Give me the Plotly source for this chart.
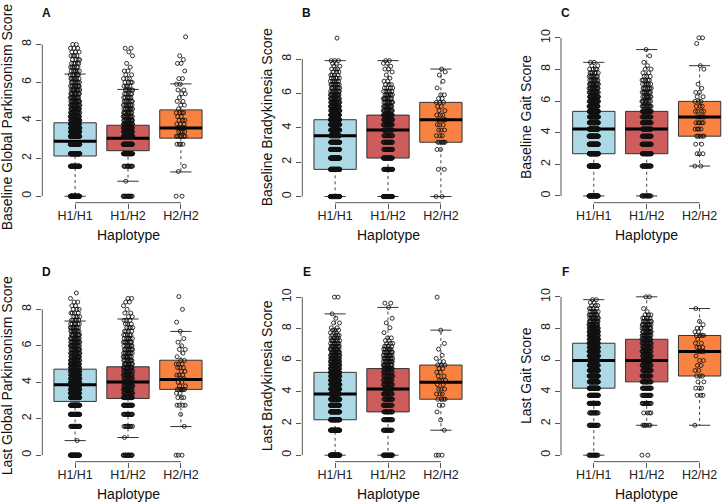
import numpy as np
import plotly.graph_objects as go

# ---------------- data ----------------
categories = ["H1/H1", "H1/H2", "H2/H2"]
box_colors = ["#ADD8E6", "#CD5C5C", "#FA8241"]

# Panel A: Baseline Global Parkinsonism Score
A_H1H1_values = [0, 1.58, 2.24, 2.74, 3.16, 3.4, 3.6, 3.8, 4.0, 4.2, 4.4, 4.6, 4.8, 5.0, 5.2, 5.4, 5.6, 5.8, 6.0, 6.2, 6.4, 6.6, 6.8, 7.0, 7.2, 7.4, 7.6, 7.8, 8.0]
A_H1H1_counts = [55, 45, 75, 80, 70, 40, 35, 30, 28, 25, 20, 18, 16, 14, 12, 11, 10, 9, 8, 7, 6, 6, 6, 5, 4, 4, 3, 3, 2]
A_H1H2_values = [0, 0.79, 1.58, 2.24, 2.74, 3.16, 3.4, 3.6, 3.8, 4.0, 4.2, 4.4, 4.6, 4.8, 5.0, 5.2, 5.4, 5.6, 5.8, 6.0, 6.2, 6.4, 6.6, 6.8, 7.0, 7.4, 7.6, 7.8]
A_H1H2_counts = [15, 1, 12, 35, 40, 45, 25, 22, 20, 15, 12, 10, 9, 8, 7, 6, 5, 5, 4, 4, 3, 2, 2, 1, 1, 1, 1, 2]
A_H2H2_values = [0, 1.3, 1.58, 2.74, 3.16, 3.4, 3.6, 3.8, 4.0, 4.2, 4.4, 4.6, 4.8, 5.0, 5.2, 5.4, 5.6, 5.9, 6.2, 6.6, 7.0, 7.2, 7.4, 8.4]
A_H2H2_counts = [2, 1, 1, 4, 6, 4, 6, 3, 3, 2, 4, 1, 2, 2, 1, 2, 2, 2, 2, 1, 2, 1, 1, 1]
A_q1 = [2.12, 2.40, 3.06]
A_med = [2.90, 3.06, 3.59]
A_q3 = [3.87, 3.74, 4.55]
A_lo = [0.0, 0.79, 1.28]
A_hi = [6.44, 5.63, 5.92]

# Panel B: Baseline Bradykinesia Score
B_H1H1_values = [0, 1.58, 2.24, 2.74, 3.16, 3.54, 3.87, 4.18, 4.47, 4.74, 5.00, 5.24, 5.48, 5.70, 5.92, 6.12, 6.32, 6.52, 6.71, 6.89, 7.07, 7.25, 7.42, 7.58, 7.75, 7.91, 9.22]
B_H1H1_counts = [100, 70, 55, 45, 40, 35, 45, 50, 50, 30, 25, 22, 20, 16, 14, 10, 8, 8, 6, 5, 4, 3, 3, 2, 2, 3, 1]
B_H1H2_values = [0, 1.58, 2.24, 2.74, 3.16, 3.54, 3.87, 4.18, 4.47, 4.74, 5.00, 5.24, 5.48, 5.70, 5.92, 6.12, 6.32, 6.52, 6.71, 6.89, 7.07, 7.25, 7.42, 7.58, 7.75, 7.91]
B_H1H2_counts = [40, 25, 30, 20, 18, 15, 20, 20, 20, 20, 14, 12, 10, 9, 7, 5, 4, 3, 2, 1, 1, 1, 2, 1, 2, 2]
B_H2H2_values = [0, 1.58, 2.74, 3.16, 3.54, 3.87, 4.18, 4.47, 4.74, 5.00, 5.24, 5.48, 5.70, 5.92, 6.32, 6.71, 7.07, 7.25, 7.42]
B_H2H2_counts = [2, 2, 2, 6, 3, 3, 3, 4, 3, 2, 2, 3, 2, 2, 1, 1, 1, 1, 1]
B_q1 = [1.58, 2.24, 3.16]
B_med = [3.54, 3.87, 4.47]
B_q3 = [4.47, 4.74, 5.48]
B_lo = [0.0, 0.0, 0.0]
B_hi = [7.91, 7.91, 7.42]

# Panel C: Baseline Gait Score
C_H1H1_values = [0, 1.89, 2.67, 3.27, 3.78, 4.23, 4.63, 5.00, 5.35, 5.67, 5.98, 6.27, 6.55, 6.81, 7.07, 7.32, 7.56, 7.79, 8.02, 8.24, 8.45]
C_H1H1_counts = [40, 50, 70, 60, 55, 50, 45, 40, 45, 30, 25, 22, 18, 15, 12, 9, 8, 6, 4, 2, 2]
C_H1H2_values = [0, 1.89, 2.67, 3.27, 3.78, 4.23, 4.63, 5.00, 5.35, 5.67, 5.98, 6.27, 6.55, 6.81, 7.07, 7.32, 7.56, 7.79, 8.02, 8.24, 8.45, 8.86, 9.26]
C_H1H2_counts = [15, 25, 35, 30, 25, 22, 20, 18, 22, 12, 10, 9, 8, 7, 6, 5, 3, 2, 2, 1, 1, 1, 1]
C_H2H2_values = [1.89, 2.67, 3.27, 3.78, 4.23, 4.63, 5.00, 5.35, 5.67, 5.98, 6.27, 6.55, 6.81, 7.07, 8.02, 8.24, 9.64, 10.0]
C_H2H2_counts = [2, 3, 2, 5, 4, 5, 5, 4, 3, 3, 2, 2, 1, 1, 1, 1, 1, 2]
C_q1 = [2.67, 2.67, 3.78]
C_med = [4.23, 4.23, 5.00]
C_q3 = [5.35, 5.35, 5.98]
C_lo = [0.0, 0.0, 1.89]
C_hi = [8.45, 9.26, 8.24]

# Panel D: Last Global Parkinsonism Score
D_H1H1_values = [0, 0.8, 1.58, 2.24, 2.74, 3.16, 3.4, 3.6, 3.8, 4.0, 4.2, 4.4, 4.6, 4.8, 5.0, 5.2, 5.4, 5.6, 5.8, 6.0, 6.2, 6.4, 6.6, 6.8, 7.0, 7.2, 7.4, 7.6, 7.8, 8.0, 8.2, 8.4, 8.6, 8.9]
D_H1H1_counts = [40, 1, 25, 45, 50, 55, 35, 35, 35, 32, 30, 28, 26, 24, 22, 20, 18, 16, 15, 14, 13, 12, 10, 9, 8, 6, 5, 4, 4, 3, 2, 2, 1, 1]
D_H1H2_values = [0, 0.97, 1.58, 2.24, 2.74, 3.16, 3.4, 3.6, 3.8, 4.0, 4.2, 4.4, 4.6, 4.8, 5.0, 5.2, 5.4, 5.6, 5.8, 6.0, 6.2, 6.4, 6.6, 6.8, 7.0, 7.2, 7.4, 7.6, 7.8, 8.0, 8.2, 8.4, 8.6]
D_H1H2_counts = [18, 1, 10, 18, 22, 28, 17, 17, 17, 15, 14, 13, 12, 11, 10, 9, 9, 8, 8, 7, 7, 6, 5, 4, 4, 3, 3, 2, 2, 1, 1, 2, 2]
D_H2H2_values = [0, 1.58, 2.24, 2.74, 3.16, 3.4, 3.6, 3.8, 4.0, 4.2, 4.4, 4.6, 4.8, 5.0, 5.2, 5.4, 5.6, 5.8, 6.0, 6.2, 6.4, 6.8, 7.3, 8.0, 8.7]
D_H2H2_counts = [3, 1, 1, 4, 3, 2, 6, 2, 2, 2, 3, 2, 3, 3, 2, 1, 1, 2, 1, 1, 1, 1, 1, 1, 1]
D_q1 = [2.95, 3.11, 3.61]
D_med = [3.86, 4.02, 4.15]
D_q3 = [4.72, 4.85, 5.21]
D_lo = [0.80, 0.97, 1.57]
D_hi = [7.36, 7.47, 6.79]

# Panel E: Last Bradykinesia Score
E_H1H1_values = [0, 1.58, 2.24, 2.74, 3.16, 3.54, 3.87, 4.18, 4.47, 4.74, 5.00, 5.24, 5.48, 5.70, 5.92, 6.12, 6.32, 6.52, 6.71, 6.89, 7.07, 7.25, 7.42, 7.58, 7.75, 7.91, 8.06, 8.37, 8.66, 8.94, 10.0]
E_H1H1_counts = [70, 50, 50, 40, 40, 40, 40, 35, 35, 30, 30, 30, 25, 22, 20, 18, 15, 12, 10, 9, 7, 6, 5, 4, 3, 3, 2, 2, 1, 1, 2]
E_H1H2_values = [0, 1.58, 2.24, 2.74, 3.16, 3.54, 3.87, 4.18, 4.47, 4.74, 5.00, 5.24, 5.48, 5.70, 5.92, 6.12, 6.32, 6.52, 6.71, 6.89, 7.07, 7.25, 7.42, 7.75, 8.06, 8.37, 8.66, 9.35, 9.62]
E_H1H2_counts = [30, 20, 20, 15, 18, 17, 17, 18, 16, 15, 14, 13, 14, 12, 11, 10, 9, 7, 6, 4, 3, 2, 2, 1, 1, 1, 1, 1, 2]
E_H2H2_values = [0, 1.58, 2.24, 2.74, 3.16, 3.54, 3.87, 4.18, 4.47, 4.74, 5.00, 5.24, 5.48, 5.70, 5.92, 6.12, 6.32, 6.71, 7.07, 7.91, 10.0]
E_H2H2_counts = [3, 1, 1, 1, 2, 4, 3, 3, 2, 3, 2, 2, 2, 3, 2, 1, 1, 1, 1, 1, 1]
E_q1 = [2.24, 2.74, 3.54]
E_med = [3.87, 4.18, 4.61]
E_q3 = [5.24, 5.48, 5.70]
E_lo = [0.0, 0.0, 1.58]
E_hi = [8.94, 9.35, 7.91]

# Panel F: Last Gait Score
F_H1H1_values = [0, 1.89, 2.67, 3.27, 3.78, 4.23, 4.63, 5.00, 5.35, 5.67, 5.98, 6.27, 6.55, 6.81, 7.07, 7.32, 7.56, 7.79, 8.02, 8.24, 8.45, 8.66, 8.86, 9.06, 9.26, 9.45, 9.64, 9.82]
F_H1H1_counts = [15, 20, 15, 40, 45, 45, 40, 35, 35, 30, 35, 35, 35, 35, 35, 30, 28, 25, 22, 18, 12, 10, 8, 6, 4, 3, 2, 2]
F_H1H2_values = [0, 1.89, 2.67, 3.27, 3.78, 4.23, 4.63, 5.00, 5.35, 5.67, 5.98, 6.27, 6.55, 6.81, 7.07, 7.32, 7.56, 7.79, 8.02, 8.24, 8.45, 8.66, 8.86, 9.06, 9.26, 10.0]
F_H1H2_counts = [2, 6, 4, 15, 20, 20, 20, 18, 18, 17, 20, 16, 16, 15, 14, 14, 14, 12, 11, 10, 7, 5, 3, 1, 1, 2]
F_H2H2_values = [1.89, 3.78, 4.23, 4.63, 5.00, 5.35, 5.67, 5.98, 6.27, 6.55, 6.81, 7.07, 7.32, 7.56, 7.79, 8.02, 8.24, 8.45, 9.26]
F_H2H2_counts = [1, 3, 3, 2, 3, 2, 2, 2, 1, 4, 3, 2, 1, 4, 2, 2, 1, 1, 1]
F_q1 = [4.23, 4.63, 5.00]
F_med = [5.98, 5.98, 6.55]
F_q3 = [7.07, 7.32, 7.56]
F_lo = [0.0, 1.89, 1.89]
F_hi = [9.82, 10.0, 9.26]

panel_letters = ["A", "B", "C", "D", "E", "F"]
y_titles = ["Baseline Global Parkinsonism Score", "Baseline Bradykinesia Score", "Baseline Gait Score",
            "Last Global Parkinsonism Score", "Last Bradykinesia Score", "Last Gait Score"]
x_title = "Haplotype"
y_ticks_8 = [0, 2, 4, 6, 8]
y_ticks_10 = [0, 2, 4, 6, 8, 10]

panel_points = [
    [(A_H1H1_values, A_H1H1_counts), (A_H1H2_values, A_H1H2_counts), (A_H2H2_values, A_H2H2_counts)],
    [(B_H1H1_values, B_H1H1_counts), (B_H1H2_values, B_H1H2_counts), (B_H2H2_values, B_H2H2_counts)],
    [(C_H1H1_values, C_H1H1_counts), (C_H1H2_values, C_H1H2_counts), (C_H2H2_values, C_H2H2_counts)],
    [(D_H1H1_values, D_H1H1_counts), (D_H1H2_values, D_H1H2_counts), (D_H2H2_values, D_H2H2_counts)],
    [(E_H1H1_values, E_H1H1_counts), (E_H1H2_values, E_H1H2_counts), (E_H2H2_values, E_H2H2_counts)],
    [(F_H1H1_values, F_H1H1_counts), (F_H1H2_values, F_H1H2_counts), (F_H2H2_values, F_H2H2_counts)],
]
panel_stats = [
    (A_q1, A_med, A_q3, A_lo, A_hi),
    (B_q1, B_med, B_q3, B_lo, B_hi),
    (C_q1, C_med, C_q3, C_lo, C_hi),
    (D_q1, D_med, D_q3, D_lo, D_hi),
    (E_q1, E_med, E_q3, E_lo, E_hi),
    (F_q1, F_med, F_q3, F_lo, F_hi),
]
panel_yticks = [y_ticks_8, y_ticks_8, y_ticks_10, y_ticks_8, y_ticks_10, y_ticks_10]

# ---------------- geometry (pixels) ----------------
W, H = 722, 502
geom = [
    dict(left=42.3, y0=195.0, ppu=19.05, bottom=201.5),
    dict(left=302.3, y0=195.3, ppu=17.25, bottom=201.5),
    dict(left=561.0, y0=194.7, ppu=15.87, bottom=201.5),
    dict(left=42.3, y0=455.0, ppu=18.30, bottom=461.5),
    dict(left=302.3, y0=455.0, ppu=15.87, bottom=461.5),
    dict(left=561.0, y0=455.0, ppu=15.90, bottom=461.5),
]
PLOT_H = 172.0
X_PPU = 52.9
X_MIN = 0.38
PLOT_W = 171.4

FONT = "Liberation Sans, Arial, Helvetica, sans-serif"
AXIS_COL = "#555555"


def jitter(n, amount=0.1):
    idx = np.arange(n)
    return (((idx * 0.6180339887498949) % 1.0) - 0.5) * 2 * amount


fig = go.Figure()
layout_axes = {}
shapes = []
annotations = []

for p in range(6):
    g = geom[p]
    sfx = "" if p == 0 else str(p + 1)
    xa, ya = "x" + sfx, "y" + sfx
    left = g["left"]
    right = min(left + PLOT_W, W)
    top = g["bottom"] - PLOT_H
    ymin = -(g["bottom"] - g["y0"]) / g["ppu"]
    ymax = ymin + PLOT_H / g["ppu"]
    xmax = X_MIN + (right - left) / X_PPU

    q1s, meds, q3s, los, his = panel_stats[p]
    for i in range(3):
        xc = i + 1
        fig.add_trace(go.Box(
            x=[xc], q1=[q1s[i]], median=[meds[i]], q3=[q3s[i]],
            width=0.8, fillcolor=box_colors[i], line=dict(color="#333333", width=1),
            whiskerwidth=0, boxpoints=False, showlegend=False, hoverinfo="skip",
            xaxis=xa, yaxis=ya,
        ))
        fig.add_trace(go.Scatter(
            x=[xc, xc, None, xc, xc], y=[q3s[i], his[i], None, q1s[i], los[i]],
            mode="lines", line=dict(color="#444444", width=1, dash="3px,3px"),
            showlegend=False, hoverinfo="skip", xaxis=xa, yaxis=ya,
        ))
        fig.add_trace(go.Scatter(
            x=[xc - 0.2, xc + 0.2, None, xc - 0.2, xc + 0.2], y=[his[i], his[i], None, los[i], los[i]],
            mode="lines", line=dict(color="#333333", width=1),
            showlegend=False, hoverinfo="skip", xaxis=xa, yaxis=ya,
        ))
        fig.add_trace(go.Scatter(
            x=[xc - 0.4, xc + 0.4], y=[meds[i], meds[i]],
            mode="lines", line=dict(color="#000000", width=3),
            showlegend=False, hoverinfo="skip", xaxis=xa, yaxis=ya,
        ))
    for i in range(3):
        vals, cnts = panel_points[p][i]
        yv = np.repeat(np.array(vals, dtype=float), np.array(cnts, dtype=int))
        xv = (i + 1) + jitter(len(yv), 0.09)
        fig.add_trace(go.Scatter(
            x=xv, y=yv, mode="markers",
            marker=dict(symbol="circle-open", size=4.0, color="#111111", line=dict(width=0.85)),
            showlegend=False, hoverinfo="skip", cliponaxis=False, xaxis=xa, yaxis=ya,
        ))

    ticks = panel_yticks[p]
    layout_axes["xaxis" + sfx] = dict(
        domain=[left / W, right / W], range=[X_MIN, xmax], anchor=ya,
        tickmode="array", tickvals=[1, 2, 3], ticktext=categories,
        ticks="outside", ticklen=5, tickwidth=1, tickcolor=AXIS_COL,
        ticklabelstandoff=-4,
        showline=False, showgrid=False, zeroline=False,
        tickfont=dict(family=FONT, size=12.5, color="#222222"),
    )
    layout_axes["yaxis" + sfx] = dict(
        domain=[(H - g["bottom"]) / H, (H - top) / H], range=[ymin, ymax], anchor=xa,
        tickmode="array", tickvals=ticks, ticktext=[str(t) for t in ticks],
        ticks="outside", ticklen=5, tickwidth=1, tickcolor=AXIS_COL, tickangle=-90,
        showline=False, showgrid=False, zeroline=False,
        tickfont=dict(family=FONT, size=12.5, color="#222222"),
    )
    shapes.append(dict(type="line", xref=xa + " domain", yref=ya, x0=0, x1=0, y0=ticks[0], y1=ticks[-1],
                       line=dict(color=AXIS_COL, width=1)))
    shapes.append(dict(type="line", xref=xa, yref=ya + " domain", x0=1, x1=3, y0=0, y1=0,
                       line=dict(color=AXIS_COL, width=1)))

    cy = (top + g["bottom"]) / 2
    annotations.append(dict(text=y_titles[p], textangle=-90, x=(left - 35) / W, y=(H - cy) / H,
                            xref="paper", yref="paper", xanchor="center", yanchor="middle",
                            showarrow=False, font=dict(family=FONT, size=14, color="#111111")))
    cx = left + PLOT_W / 2
    annotations.append(dict(text=x_title, x=cx / W, y=(H - (g["bottom"] + 32)) / H,
                            xref="paper", yref="paper", xanchor="center", yanchor="middle",
                            showarrow=False, font=dict(family=FONT, size=14, color="#111111")))
    annotations.append(dict(text="<b>" + panel_letters[p] + "</b>", x=(left + 4.5) / W,
                            y=(H - (g["bottom"] - 190)) / H,
                            xref="paper", yref="paper", xanchor="center", yanchor="middle",
                            showarrow=False, font=dict(family=FONT, size=12, color="#111111")))

fig.update_layout(
    width=W, height=H, margin=dict(l=0, r=0, t=0, b=0),
    paper_bgcolor="white", plot_bgcolor="white",
    showlegend=False, boxmode="overlay",
    shapes=shapes, annotations=annotations,
    **layout_axes,
)

fig.write_html("out.html", post_script="document.body.style.margin='0';",
               config={"displayModeBar": False})
